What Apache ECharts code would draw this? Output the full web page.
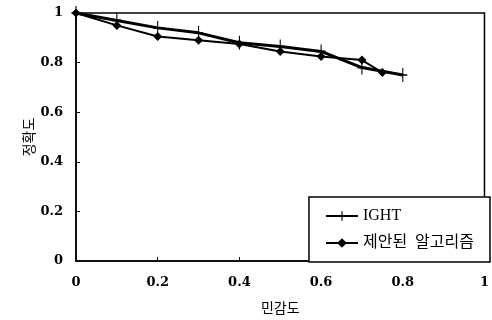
<!DOCTYPE html>
<html><head><meta charset="utf-8">
<script src="https://cdn.jsdelivr.net/npm/echarts@6/dist/echarts.min.js"></script>
<style>html,body{margin:0;padding:0;background:#fff}#c{width:492px;height:320px}</style>
</head><body><div id="c"></div>
<script>
var seriesNames = ['IGHT', '제안된  알고리즘'];
var ightX = [0, 0.1, 0.2, 0.3, 0.4, 0.5, 0.6, 0.7, 0.8];
var ightY = [1, 0.97, 0.94, 0.92, 0.88, 0.865, 0.845, 0.78, 0.75];
var propX = [0, 0.1, 0.2, 0.3, 0.4, 0.5, 0.6, 0.7, 0.75];
var propY = [1, 0.95, 0.905, 0.89, 0.875, 0.845, 0.825, 0.81, 0.76];
var xTicks = [0, 0.2, 0.4, 0.6, 0.8, 1];
var yTicks = [0, 0.2, 0.4, 0.6, 0.8, 1];
var xName = '민감도';
var yName = '정확도';

function pairs(xs, ys){ return xs.map(function(x,i){ return [x, ys[i]]; }); }
var crossPath = 'path://M0,4.4h10v1.2h-10z M4.4,0h1.2v10h-1.2z';
var labelFont = {color:'#000', fontFamily:'"DejaVu Serif", "Liberation Serif", serif', fontWeight:'bold', fontSize:13};
var chart = echarts.init(document.getElementById('c'));
chart.setOption({
  animation:false,
  backgroundColor:'#fff',
  grid:{left:76, right:3, top:13, bottom:58, show:true, borderColor:'#000', borderWidth:1.5},
  legend:{
    data:seriesNames, orient:'vertical', right:2, bottom:58,
    backgroundColor:'#fff', borderColor:'#000', borderWidth:1.5,
    padding:[11,16,11,16], itemGap:11, itemWidth:32, itemHeight:12,
    textStyle:{color:'#000', fontSize:16, fontFamily:'"Liberation Serif", "Noto Sans CJK KR", serif'}
  },
  xAxis:{type:'value', min:0, max:1, interval:0.2,
    name:xName, nameLocation:'middle', nameGap:40,
    nameTextStyle:{color:'#000', fontSize:14, fontFamily:'"Noto Sans CJK KR", sans-serif'},
    axisLine:{show:true, lineStyle:{color:'#000', width:1.5}},
    axisTick:{show:true, inside:true, length:4, lineStyle:{color:'#000'}},
    axisLabel:Object.assign({margin:15}, labelFont),
    splitLine:{show:false}},
  yAxis:{type:'value', min:0, max:1, interval:0.2,
    name:yName, nameLocation:'middle', nameGap:40, nameRotate:90, nameMoveOverlap:false,
    nameTextStyle:{color:'#000', fontSize:14, fontFamily:'"Noto Sans CJK KR", sans-serif'},
    axisLine:{show:true, lineStyle:{color:'#000', width:1.5}},
    axisTick:{show:true, inside:true, length:4, lineStyle:{color:'#000'}},
    axisLabel:Object.assign({margin:13}, labelFont),
    splitLine:{show:false}},
  series:[
    {name:seriesNames[0], type:'line', data:pairs(ightX, ightY),
     symbol:crossPath, symbolSize:[9,14], showAllSymbol:true,
     itemStyle:{color:'#000'}, lineStyle:{color:'#000', width:3}},
    {name:seriesNames[1], type:'line', data:pairs(propX, propY),
     symbol:'diamond', symbolSize:9, showAllSymbol:true,
     itemStyle:{color:'#000'}, lineStyle:{color:'#000', width:2}}
  ]
});
</script></body></html>
